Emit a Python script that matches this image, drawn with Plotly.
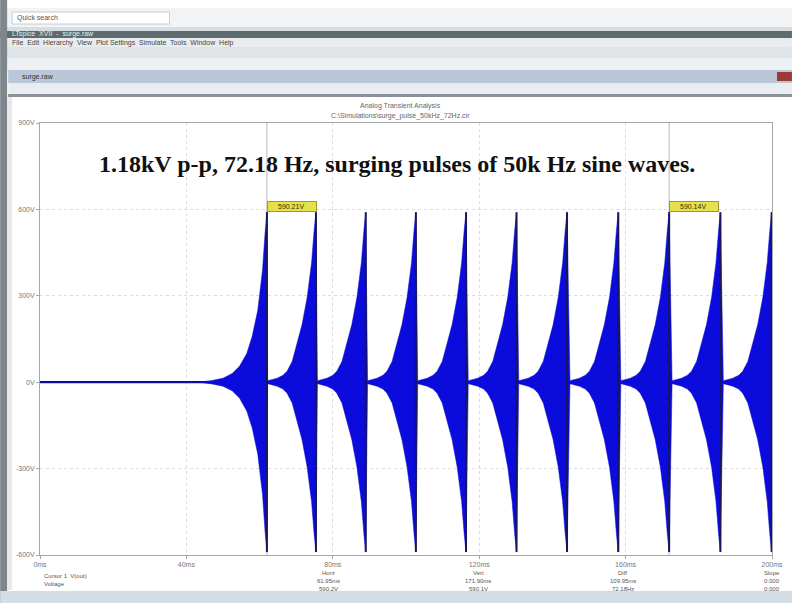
import plotly.graph_objects as go

# ---------------- data ----------------
x_tick_vals = [0, 40, 80, 120, 160, 200]
x_tick_text = ["0ms", "40ms", "80ms", "120ms", "160ms", "200ms"]
y_tick_vals = [-600, -300, 0, 300, 600, 900]
y_tick_text = ["-600V", "-300V", "0V", "300V", "600V", "900V"]

peak_times_ms = [62.0, 75.4, 89.0, 102.7, 116.4, 130.2, 144.0, 158.0, 171.9, 185.9, 199.9]
peak_volts = 590

# rise of the first burst (offset before its peak, envelope amplitude)
first_offset_ms = [-18.5, -15.0, -12.0, -9.5, -7.5, -5.5, -4.0, -2.5, -1.2, -0.5, 0.0]
first_volts = [0, 6, 14, 30, 55, 100, 160, 250, 390, 520, 590]

# rise of each following burst
pulse_offset_ms = [-13.2, -12.0, -10.6, -9.0, -7.9, -6.5, -5.2, -3.8, -2.4, -1.2, -0.5, 0.0]
pulse_volts = [5, 8, 14, 24, 38, 72, 130, 200, 295, 415, 528, 590]

cursor_times_ms = [62.0, 171.9]
cursor_labels = ["590.21V ", "590.14V "]

title_text = "1.18kV p-p, 72.18 Hz, surging pulses of 50k Hz sine waves."

# ---------------- envelope assembly ----------------
env_t = [0.0]
env_v = [0.0]
for k, pk in enumerate(peak_times_ms):
    offs, vals = (first_offset_ms, first_volts) if k == 0 else (pulse_offset_ms, pulse_volts)
    for o, v in zip(offs, vals):
        env_t.append(pk + o)
        env_v.append(v)
env_t.append(200.0)
env_v.append(pulse_volts[0])

fig = go.Figure()

BLUE = "#0b0bdc"
NAVY = "#17175a"

# baseline
fig.add_trace(go.Scatter(x=[0, 200], y=[0, 0], mode="lines",
                         line=dict(color=NAVY, width=2.2), hoverinfo="skip"))
# envelope fill
fig.add_trace(go.Scatter(x=env_t, y=env_v, mode="lines",
                         line=dict(color=BLUE, width=0.5), hoverinfo="skip"))
fig.add_trace(go.Scatter(x=env_t, y=[-v for v in env_v], mode="lines",
                         line=dict(color=BLUE, width=0.5), fill="tonexty",
                         fillcolor=BLUE, hoverinfo="skip"))
# dark vertical collapses at each peak
dx, dy = [], []
for pk in peak_times_ms:
    dx += [pk, pk, None]
    dy += [peak_volts, -peak_volts, None]
fig.add_trace(go.Scatter(x=dx, y=dy, mode="lines",
                         line=dict(color=NAVY, width=2), hoverinfo="skip"))

# ---------------- layout ----------------
L, R, T, B = 40, 775, 123, 555
W, H = R - L, B - T


def px(x):
    return (x - L) / W


def py(y):
    return (B - y) / H


shapes = []


def band(x0, y0, x1, y1, color, line=None):
    shapes.append(dict(type="rect", xref="paper", yref="paper",
                       x0=px(x0), x1=px(x1), y0=py(y1), y1=py(y0),
                       fillcolor=color, line=dict(width=0 if line is None else 1,
                                                  color=line or color),
                       layer="below"))


# window chrome
band(0, 0, 795, 603, "#ffffff")
band(0, 8, 795, 27, "#f1f3f5")
band(12, 12, 170, 24, "#ffffff", "#c8ccd0")
band(0, 27, 795, 31, "#d6dde3")
band(0, 31, 795, 38, "#5d6b6f")
band(0, 38, 795, 47, "#e8ecef")
band(0, 47, 795, 58, "#dfe4e8")
band(0, 58, 795, 70, "#eef1f4")
band(8, 70, 795, 83, "#b9c7d6")
band(780, 72, 795, 81, "#9c3a3a")
band(8, 83, 795, 94, "#e9edf1")
band(8, 94, 795, 97, "#8a9096")
band(0, 0, 7, 603, "#7f878d")
band(7, 97, 12, 590, "#e6eaee")
band(0, 591, 795, 603, "#d3dde6")

annotations = [
    dict(text="<b>" + title_text + "</b>", xref="paper", yref="paper", x=px(398), y=py(164),
         showarrow=False, xanchor="center", yanchor="middle",
         font=dict(family="Liberation Serif", size=24, color="#111111")),
    dict(text="Analog Transient Analysis", xref="paper", yref="paper",
         x=px(402), y=py(106), showarrow=False, xanchor="center", yanchor="middle",
         font=dict(family="Liberation Sans", size=7, color="#666666")),
    dict(text="C:\\Simulations\\surge_pulse_50kHz_72Hz.cir", xref="paper", yref="paper",
         x=px(402), y=py(116), showarrow=False, xanchor="center", yanchor="middle",
         font=dict(family="Liberation Sans", size=7, color="#666666")),
    dict(text="LTspice  XVII  -  surge.raw", xref="paper", yref="paper",
         x=px(10), y=py(34.5), showarrow=False, xanchor="left", yanchor="middle",
         font=dict(family="Liberation Sans", size=7, color="#e8f0e0")),
    dict(text="File  Edit  Hierarchy  View  Plot Settings  Simulate  Tools  Window  Help",
         xref="paper", yref="paper", x=px(10), y=py(42.5), showarrow=False,
         xanchor="left", yanchor="middle",
         font=dict(family="Liberation Sans", size=7, color="#444444")),
    dict(text="surge.raw", xref="paper", yref="paper", x=px(20), y=py(76.5),
         showarrow=False, xanchor="left", yanchor="middle",
         font=dict(family="Liberation Sans", size=7, color="#333333")),
    dict(text="Quick search", xref="paper", yref="paper", x=px(15), y=py(18),
         showarrow=False, xanchor="left", yanchor="middle",
         font=dict(family="Liberation Sans", size=7, color="#555555")),
]

for ct, lab in zip(cursor_times_ms, cursor_labels):
    annotations.append(dict(text=lab, x=ct, y=peak_volts, xref="x", yref="y",
                            xanchor="left", yanchor="bottom", showarrow=False,
                            bgcolor="#e6e04a", bordercolor="#9a9a30", borderwidth=1,
                            borderpad=1, width=46, align="center",
                            font=dict(family="Liberation Sans", size=7, color="#333300")))
    shapes.append(dict(type="line", xref="x", yref="paper", x0=ct, x1=ct, y0=0, y1=1,
                       line=dict(color="#b8b8b8", width=1), layer="below"))

# readout rows under the axis
readout_cols = [330, 480, 625, 775]
readout_rows = [["Horz", "61.95ms", "590.2V"],
                ["Vert", "171.90ms", "590.1V"],
                ["Diff", "109.95ms", "72.18Hz"],
                ["Slope", "0.000", "0.000"]]
for cx, rows in zip(readout_cols, readout_rows):
    for i, t in enumerate(rows):
        annotations.append(dict(text=t, xref="paper", yref="paper", x=px(cx), y=py(572.5 + 8 * i),
                                showarrow=False, xanchor="center", yanchor="middle",
                                font=dict(family="Liberation Sans", size=6, color="#555555")))
annotations.append(dict(text="Cursor 1  V(out)<br>Voltage", xref="paper", yref="paper",
                        x=px(42), y=py(580), showarrow=False, xanchor="left", yanchor="middle",
                        align="left",
                        font=dict(family="Liberation Sans", size=6, color="#555555")))

fig.update_layout(
    width=795, height=603,
    margin=dict(l=L, r=795 - R, t=T, b=603 - B, pad=0),
    paper_bgcolor="#ffffff", plot_bgcolor="#ffffff",
    showlegend=False,
    shapes=shapes,
    annotations=annotations,
    xaxis=dict(range=[0, 200], tickvals=x_tick_vals, ticktext=x_tick_text,
               showgrid=True, gridcolor="#dcdcdc", griddash="dot", gridwidth=1,
               zeroline=False, showline=True, linecolor="#a8a8a8", mirror=True,
               ticks="outside", ticklen=3, tickcolor="#a8a8a8",
               tickfont=dict(family="Liberation Sans", size=7, color="#777777")),
    yaxis=dict(range=[-600, 900], tickvals=y_tick_vals, ticktext=y_tick_text,
               showgrid=True, gridcolor="#dcdcdc", griddash="dot", gridwidth=1,
               zeroline=False, showline=True, linecolor="#a8a8a8", mirror=True,
               ticks="outside", ticklen=3, tickcolor="#a8a8a8",
               tickfont=dict(family="Liberation Sans", size=7, color="#777777")),
)

fig.write_html("out.html", config={"displayModeBar": False},
               post_script="document.body.style.margin='0px';document.body.style.overflow='hidden';")
